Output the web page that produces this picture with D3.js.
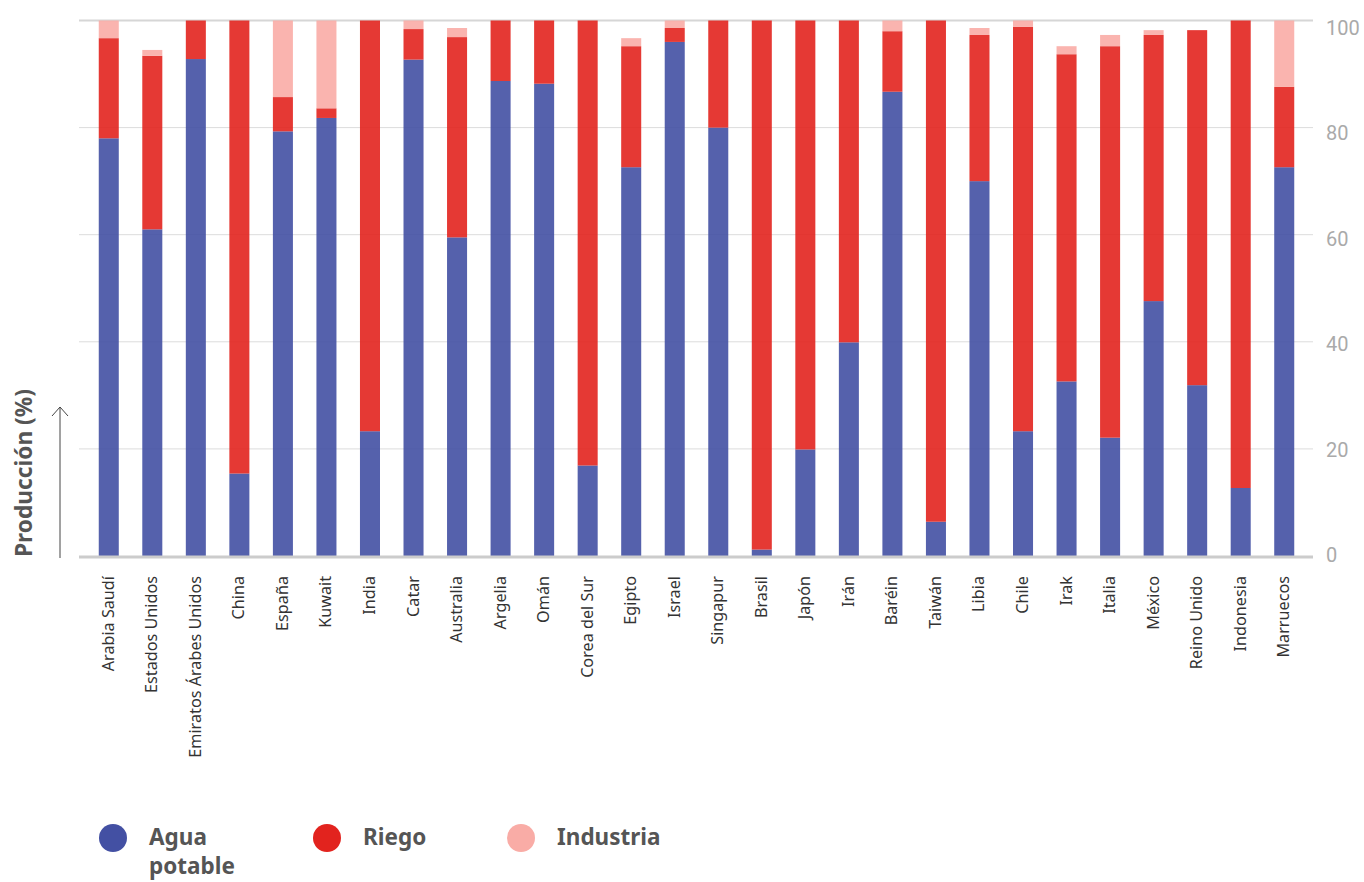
<!DOCTYPE html>
<html>
<head>
<meta charset="utf-8">
<script src="https://cdn.jsdelivr.net/npm/d3@7/dist/d3.min.js"></script>
<style>
  html, body { margin: 0; padding: 0; background: #fff; }
  svg { display: block; }
</style>
</head>
<body>
<svg id="chart" width="1364" height="882"></svg>
<script>
// Water production by use, per country (%)
const categories = ["Arabia Saudí","Estados Unidos","Emiratos Árabes Unidos","China","España","Kuwait","India","Catar","Australia","Argelia","Omán","Corea del Sur","Egipto","Israel","Singapur","Brasil","Japón","Irán","Baréin","Taiwán","Libia","Chile","Irak","Italia","México","Reino Unido","Indonesia","Marruecos"];
const aguaPotable = [78, 61, 92.8, 15.4, 79.3, 81.8, 23.3, 92.7, 59.5, 88.7, 88.2, 16.9, 72.6, 96, 80, 1.2, 19.9, 39.9, 86.7, 6.4, 70, 23.3, 32.6, 22.1, 47.6, 31.9, 12.7, 72.6];
const riego = [18.7, 32.4, 7.2, 84.6, 6.4, 1.8, 76.7, 5.7, 37.4, 11.3, 11.8, 83.1, 22.6, 2.6, 20, 98.8, 80.1, 60.1, 11.3, 93.6, 27.3, 75.5, 61.1, 73.1, 49.7, 66.3, 87.3, 15];
const industria = [3.3, 1.1, 0, 0, 14.3, 16.4, 0, 1.6, 1.7, 0, 0, 0, 1.5, 1.4, 0, 0, 0, 0, 2.0, 0, 1.3, 1.2, 1.5, 2.1, 0.9, 0, 0, 12.4];
const seriesNames = ["Agua potable", "Riego", "Industria"];
const yTicks = [0, 20, 40, 60, 80, 100];
const yTitle = "Producción (%)";

const colors = ["#4350a3", "#e2231e", "#f9aca6"];

const svg = d3.select("#chart");

const rows = categories.map((c, i) => ({
  cat: c,
  "Agua potable": aguaPotable[i],
  "Riego": riego[i],
  "Industria": industria[i]
}));

const x = d3.scaleBand().domain(categories).range([87, 1306]).paddingInner(0.54).paddingOuter(0.27);
const y = d3.scaleLinear().domain([0, 100]).range([556, 20.5]);
const yLabel = d3.scaleLinear().domain([0, 100]).range([555, 28]);

const gridX0 = 79, gridX1 = 1313;

// gridlines
svg.append("g").selectAll("line")
  .data(yTicks.filter(d => d > 0))
  .join("line")
  .attr("x1", gridX0).attr("x2", gridX1)
  .attr("y1", d => y(d)).attr("y2", d => y(d))
  .attr("stroke", d => d === 100 ? "#d6d6d6" : "#dcdcdc")
  .attr("stroke-width", d => d === 100 ? 2 : 1);

// stacked bars
const stack = d3.stack().keys(seriesNames);
const layers = stack(rows);

svg.append("g").selectAll("g")
  .data(layers)
  .join("g")
  .attr("fill", (d, i) => colors[i])
  .attr("fill-opacity", 0.9)
  .selectAll("rect")
  .data(d => d.filter(p => p[1] - p[0] > 0))
  .join("rect")
  .attr("x", d => x(d.data.cat))
  .attr("width", x.bandwidth())
  .attr("y", d => y(d[1]))
  .attr("height", d => y(d[0]) - y(d[1]));

// baseline
svg.append("line")
  .attr("x1", gridX0).attr("x2", gridX1)
  .attr("y1", y(0) + 1).attr("y2", y(0) + 1)
  .attr("stroke", "#cccccc").attr("stroke-width", 3);

// right-side tick labels
svg.append("g").selectAll("text")
  .data(yTicks)
  .join("text")
  .attr("x", 1326)
  .attr("y", d => yLabel(d))
  .attr("dy", "0.35em")
  .attr("font-family", "Roboto, 'Noto Sans', sans-serif")
  .attr("font-size", 20)
  .attr("fill", "#aaaaaa")
  .text(d => d);

// category labels
svg.append("g").selectAll("text")
  .data(categories)
  .join("text")
  .attr("transform", d => `translate(${x(d) + x.bandwidth() / 2 + 5},576) rotate(-90)`)
  .attr("text-anchor", "end")
  .attr("font-family", "'Noto Sans', 'Open Sans', sans-serif")
  .attr("font-size", 16.2)
  .attr("fill", "#333333")
  .text(d => d);

// y-axis title and arrow
svg.append("text")
  .attr("transform", "translate(32,557) rotate(-90)")
  .attr("font-family", "'Noto Sans', 'Open Sans', sans-serif")
  .attr("font-weight", "bold")
  .attr("font-size", 22.7)
  .attr("fill", "#555555")
  .text(yTitle);

svg.append("path")
  .attr("d", "M60,558 V407 M52,416 L60,407 L68,416")
  .attr("fill", "none")
  .attr("stroke", "#444")
  .attr("stroke-width", 1);

// legend
const legendX = [113, 327, 521];
const legend = svg.append("g").selectAll("g")
  .data(seriesNames)
  .join("g")
  .attr("transform", (d, i) => `translate(${legendX[i]},838)`);

legend.append("circle")
  .attr("r", 14)
  .attr("fill", (d, i) => colors[i]);

legend.append("text")
  .attr("x", 36)
  .attr("y", 7)
  .attr("font-family", "'Noto Sans', 'Open Sans', sans-serif")
  .attr("font-weight", "bold")
  .attr("font-size", 22.5)
  .attr("fill", "#555555")
  .each(function(d) {
    const words = d.split(" ");
    const t = d3.select(this);
    words.forEach((w, k) => {
      t.append("tspan").attr("x", 36).attr("dy", k === 0 ? 0 : 29).text(w);
    });
  });
</script>
</body>
</html>
